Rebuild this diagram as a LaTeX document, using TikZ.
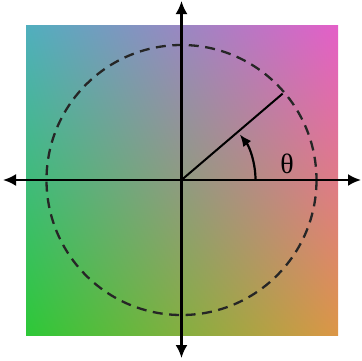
\documentclass[tikz,border=0pt]{standalone}
\usepackage{fontspec}
\setmainfont{Liberation Serif}
\usetikzlibrary{arrows.meta,shadings,calc}
\definecolor{cTL}{RGB}{80,175,190}
\definecolor{cTR}{RGB}{228,95,200}
\definecolor{cBL}{RGB}{45,200,55}
\definecolor{cBR}{RGB}{220,150,70}
\tikzset{
  axisline/.style={line width=2.2pt,-{Latex[length=13pt,width=12pt]}},
  dashcircle/.style={line width=2.3pt,dash pattern=on 10pt off 6.5pt,draw=black!85},
  radius line/.style={line width=2pt},
  anglearc/.style={line width=2.2pt,-{Latex[length=12pt,width=10pt]}},
  lbl/.style={font=\fontsize{28}{28}\selectfont,inner sep=0pt}
}
\begin{document}
\begin{tikzpicture}[x=1pt,y=-1pt]
\useasboundingbox (0,0) rectangle (362,360);
\shade[upper left=cTL,upper right=cTR,lower left=cBL,lower right=cBR] (26,25) rectangle (338,335);
\coordinate (O) at (181.5,180);
\coordinate (L) at (3,180);
\coordinate (R) at (361,180);
\coordinate (T) at (181.5,1);
\coordinate (B) at (181.5,358);
\draw[dashcircle] (O) circle[radius=135];
\draw[axisline] (O) -- (R);
\draw[axisline] (O) -- (L);
\draw[axisline] (O) -- (T);
\draw[axisline] (O) -- (B);
\coordinate (P) at ($(O)+(-40.5:133)$);
\draw[radius line] (O) -- (P);
\coordinate (A0) at (255.5,180);
\draw[anglearc] (A0) arc[start angle=0,end angle=-38,radius=74];
\node[lbl] (theta) at (287,164) {θ};
\end{tikzpicture}
\end{document}
